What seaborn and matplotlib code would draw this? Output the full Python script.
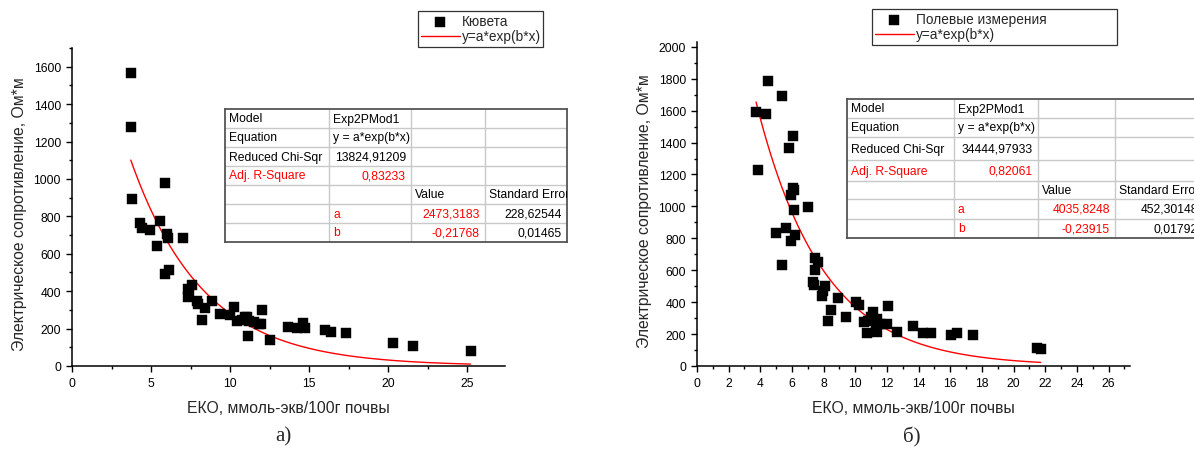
import numpy as np
import pandas as pd
import matplotlib
matplotlib.use('Agg')
import matplotlib.pyplot as plt
from matplotlib.ticker import MultipleLocator
import seaborn as sns

# --- Data: panel a) cuvette ---
cuv_x = [3.72, 3.76, 3.78, 5.90, 4.31, 4.46, 4.94, 5.57, 5.36, 6.04, 6.06, 7.01,
         6.11, 5.90, 7.58, 7.37, 7.31, 7.40, 7.90, 8.00, 8.43, 8.25, 8.85, 9.38,
         9.97, 10.26, 10.43, 11.07, 11.22, 11.52, 11.12, 12.00, 11.96, 12.55,
         13.64, 14.23, 14.62, 14.72, 15.99, 16.40, 17.36, 20.30, 21.59, 25.22,
         10.75, 10.95, 11.85]
cuv_y = [1568, 1280, 893, 977, 763, 738, 727, 774, 643, 706, 683, 684,
         513, 492, 433, 412, 367, 395, 349, 332, 308, 246, 349, 278,
         275, 317, 242, 260, 242, 233, 159, 299, 225, 139,
         208, 201, 230, 203, 194, 183, 175, 121, 109, 82,
         247, 264, 226]
cuv_a, cuv_b = 2473.3183, -0.21768

# --- Data: panel b) field measurements ---
fld_x = [4.47, 5.35, 3.73, 4.38, 6.08, 5.81, 3.83, 6.05, 6.13, 5.94, 6.13, 7.03,
         4.99, 5.62, 6.17, 5.94, 7.45, 5.39, 7.67, 7.45, 7.31, 7.39, 8.09, 7.98,
         7.92, 8.89, 8.46, 8.30, 9.39, 10.04, 10.25, 11.10, 10.97, 11.35, 10.55,
         10.82, 11.56, 12.02, 12.09, 10.72, 11.35, 12.61, 11.30, 13.66, 14.30,
         14.76, 16.05, 16.45, 17.46, 21.50, 21.71]
fld_y = [1785, 1691, 1594, 1580, 1442, 1365, 1231, 1114, 1100, 1072, 978, 995,
         834, 863, 823, 782, 675, 633, 650, 602, 529, 508, 500, 472,
         441, 424, 351, 280, 305, 399, 382, 340, 305, 295, 274,
         284, 263, 263, 378, 205, 215, 211, 235, 253, 205,
         207, 194, 205, 194, 113, 107]
fld_a, fld_b = 4035.8248, -0.23915

cuv_table = [
    ['Model', 'Exp2PMod1', '', ''],
    ['Equation', 'y = a*exp(b*x)', '', ''],
    ['Reduced Chi-Sqr', '13824,91209', '', ''],
    ['Adj. R-Square', '0,83233', '', ''],
    ['', '', 'Value', 'Standard Error'],
    ['', 'a', '2473,3183', '228,62544'],
    ['', 'b', '-0,21768', '0,01465'],
]
fld_table = [
    ['Model', 'Exp2PMod1', '', ''],
    ['Equation', 'y = a*exp(b*x)', '', ''],
    ['Reduced Chi-Sqr', '34444,97933', '', ''],
    ['Adj. R-Square', '0,82061', '', ''],
    ['', '', 'Value', 'Standard Error'],
    ['', 'a', '4035,8248', '452,30148'],
    ['', 'b', '-0,23915', '0,01792'],
]
red_cells = [(3, 0), (3, 1), (5, 1), (5, 2), (6, 1), (6, 2)]

xlabel = 'ЕКО, ммоль-экв/100г почвы'
ylabel = 'Электрическое сопротивление, Ом*м'

sns.set_style('ticks')
plt.rcParams['font.family'] = ['Liberation Sans', 'DejaVu Sans']

W, H = 1194, 456
fig = plt.figure(figsize=(W / 100, H / 100), dpi=100)


def px_axes(x0, y0, x1, y1):
    return fig.add_axes([x0 / W, 1 - y1 / H, (x1 - x0) / W, (y1 - y0) / H])


def is_num(s):
    return len(s) > 0 and (s[0].isdigit() or (s[0] == '-' and s[1:2].isdigit()))


def draw_table(box, cols, rows, cells):
    x0, y0, x1, y1 = box
    t = px_axes(x0, y0, x1, y1)
    t.set_xlim(0, x1 - x0)
    t.set_ylim(y1 - y0, 0)
    t.set_xticks([])
    t.set_yticks([])
    t.set_facecolor('white')
    for s in t.spines.values():
        s.set_visible(True)
        s.set_color('#555555')
        s.set_linewidth(1.3)
    for r in rows[1:-1]:
        t.axhline(r - y0, color='#c8c8c8', lw=1)
    for c in cols[1:-1]:
        t.axvline(c - x0, color='#c8c8c8', lw=1)
    for i, row in enumerate(cells):
        ym = (rows[i] + rows[i + 1]) / 2 - y0
        for j, txt in enumerate(row):
            if not txt:
                continue
            col = 'red' if (i, j) in red_cells else 'black'
            if is_num(txt):
                t.text(cols[j + 1] - x0 - 5, ym, txt, ha='right', va='center',
                       fontsize=8.7, color=col, clip_on=True)
            else:
                t.text(cols[j] - x0 + 4, ym, txt, ha='left', va='center',
                       fontsize=8.7, color=col, clip_on=True)


def panel(box, x, y, a, b, name, xmax, ymax, xmaj, xmin_, leg_box):
    ax = px_axes(*box)
    df = pd.DataFrame({'x': x, 'y': y})
    sns.scatterplot(data=df, x='x', y='y', ax=ax, marker='s', s=48,
                    color='black', edgecolor='black', linewidth=0.3,
                    label=name, zorder=3)
    xf = np.linspace(min(x), max(x), 200)
    fit = pd.DataFrame({'x': xf, 'y': a * np.exp(b * xf)})
    sns.lineplot(data=fit, x='x', y='y', ax=ax, color='red', lw=1,
                 label='y=a*exp(b*x)', zorder=2)
    ax.set_xlim(0, xmax)
    ax.set_ylim(0, ymax)
    ax.xaxis.set_major_locator(MultipleLocator(xmaj))
    ax.xaxis.set_minor_locator(MultipleLocator(xmin_))
    ax.yaxis.set_major_locator(MultipleLocator(200))
    ax.yaxis.set_minor_locator(MultipleLocator(100))
    sns.despine(ax=ax)
    for s in ('left', 'bottom'):
        ax.spines[s].set_linewidth(1.1)
        ax.spines[s].set_color('black')
    ax.tick_params(which='major', length=4.5, width=1, labelsize=8.7, colors='black')
    ax.tick_params(which='minor', length=2.5, width=1, colors='black')
    ax.set_xlabel(xlabel, fontsize=11.3)
    ax.set_ylabel(ylabel, fontsize=11.3)
    ax.yaxis.set_label_coords(-0.105, 0.48)
    ax.xaxis.set_label_coords(0.5, -0.106)
    h, l = ax.get_legend_handles_labels()
    lx0, ly0, lx1, ly1 = leg_box
    ax.legend(h, l, loc='upper left',
              bbox_to_anchor=(lx0 / W, 1 - ly1 / H, (lx1 - lx0) / W, (ly1 - ly0) / H),
              bbox_transform=fig.transFigure, mode='expand', frameon=True,
              fancybox=False, edgecolor='#333333', framealpha=1, fontsize=9.8,
              borderpad=0.25, handlelength=2.8, handletextpad=0.2,
              labelspacing=0.08, borderaxespad=0)
    ax.get_legend().get_frame().set_linewidth(0.9)
    return ax


panel((72, 49, 505, 367), cuv_x, cuv_y, cuv_a, cuv_b, 'Кювета',
      27.4, 1700, 5, 2.5, (418, 12, 543, 48))
panel((697, 43, 1130, 367), fld_x, fld_y, fld_a, fld_b, 'Полевые измерения',
      27.35, 2030, 2, 1, (872, 10, 1117, 47))

draw_table((225, 110, 567, 243), [225, 329, 411, 485, 567],
           [110, 129, 148, 167, 186, 205, 224, 243], cuv_table)
draw_table((847, 100, 1203, 239), [847, 954, 1038, 1115, 1203],
           [100, 119, 138, 161, 182, 200, 220, 239], fld_table)

fig.text(283 / W, 1 - 437 / H, 'а)', family='Liberation Serif', fontsize=15,
         ha='center', va='center')
fig.text(912 / W, 1 - 437 / H, 'б)', family='Liberation Serif', fontsize=15,
         ha='center', va='center')

fig.savefig('out.png', dpi=100)
